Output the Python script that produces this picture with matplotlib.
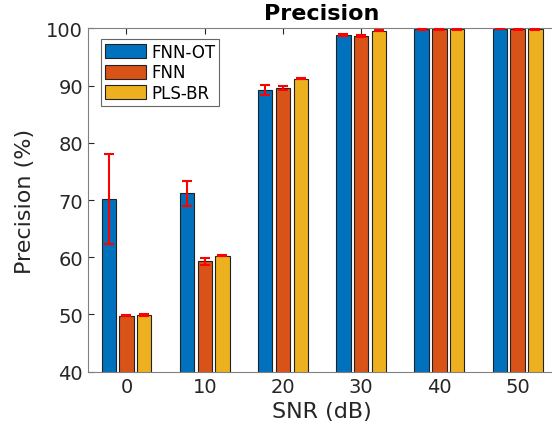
import matplotlib
matplotlib.use("Agg")
import matplotlib.pyplot as plt
import numpy as np

snr = [0, 10, 20, 30, 40, 50]
series = ["FNN-OT", "FNN", "PLS-BR"]
fnn_ot = [70.2, 71.2, 89.2, 98.8, 99.9, 99.95]
fnn = [49.8, 59.3, 89.6, 98.7, 99.9, 99.9]
pls_br = [49.9, 60.3, 91.2, 99.6, 99.9, 99.9]
fnn_ot_err = [7.8, 2.2, 0.9, 0.15, 0.1, 0.1]
fnn_err = [0.1, 0.6, 0.3, 0.15, 0.1, 0.1]
pls_br_err = [0.1, 0.1, 0.1, 0.1, 0.1, 0.1]

colors = ["#0072BD", "#D95319", "#EDB120"]

fig = plt.figure(figsize=(5.52, 4.39), dpi=100)
ax = fig.add_axes([0.1594, 0.151, 0.848, 0.782])

x = np.array(snr, dtype=float)
offset = 2.27
width = 1.83
vals = [fnn_ot, fnn, pls_br]
errs = [fnn_ot_err, fnn_err, pls_br_err]
for i, (v, e, c, name) in enumerate(zip(vals, errs, colors, series)):
    xs = x + (i - 1) * offset
    ax.bar(xs, v, width=width, color=c, edgecolor="#222222", linewidth=0.8, label=name, zorder=2)
    ax.errorbar(xs, v, yerr=e, fmt="none", ecolor="red", elinewidth=1.5, capsize=3.3, capthick=1.5, zorder=3)

ax.set_xlim(-4.92, 54.92)
ax.set_ylim(40, 100)
ax.set_xticks(snr)
ax.set_yticks([40, 50, 60, 70, 80, 90, 100])
ax.tick_params(direction="in", length=4, labelsize=14, colors="#262626", top=True, right=False, width=0.8)
ax.tick_params(axis="both", colors="#262626", labelcolor="#262626")
for s in ["left", "bottom", "top"]:
    ax.spines[s].set_color("#808080")
ax.spines["right"].set_visible(False)

ax.set_xlabel("SNR (dB)", fontsize=16, color="#262626", labelpad=4)
ax.set_ylabel("Precision (%)", fontsize=16, color="#262626", labelpad=8)
ax.set_title("Precision", fontsize=16, fontweight="bold", pad=7)

leg = ax.legend(loc="upper left", fontsize=12, frameon=True, fancybox=False, edgecolor="#404040",
                handlelength=2.45, handleheight=0.94, borderpad=0.25, labelspacing=0.15, handletextpad=0.3,
                borderaxespad=0, bbox_to_anchor=(0.028, 0.970))
leg.get_frame().set_linewidth(0.8)

fig.savefig("out.png", dpi=100)
